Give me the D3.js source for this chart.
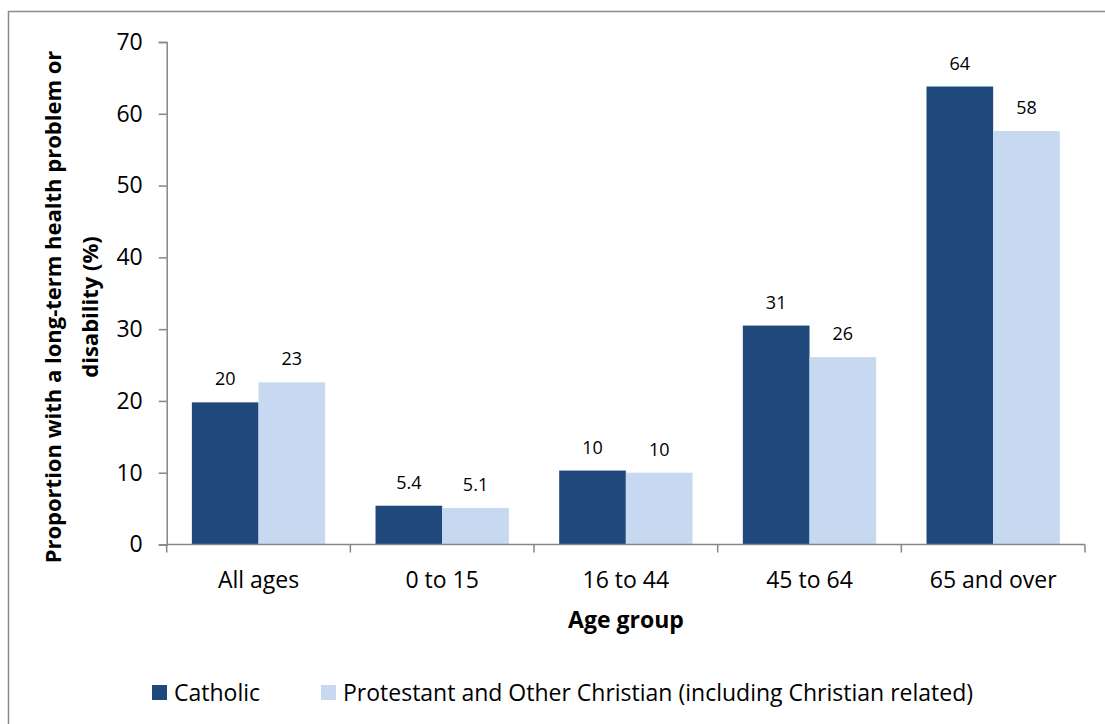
<!DOCTYPE html>
<html>
<head>
<meta charset="utf-8">
<script src="https://cdn.jsdelivr.net/npm/d3@7"></script>
<style>
  html, body { margin: 0; padding: 0; background: #fff; }
  svg { display: block; font-family: "Open Sans", "Noto Sans", sans-serif; }
</style>
</head>
<body>
<svg id="chart" width="1105" height="724"></svg>
<script>
const categories = ["All ages", "0 to 15", "16 to 44", "45 to 64", "65 and over"];
const seriesNames = ["Catholic", "Protestant and Other Christian (including Christian related)"];
const catholic = [19.8, 5.4, 10.3, 30.5, 63.8];
const protestant = [22.6, 5.1, 10.0, 26.1, 57.6];
const catholicLabels = ["20", "5.4", "10", "31", "64"];
const protestantLabels = ["23", "5.1", "10", "26", "58"];
const yTicks = [0, 10, 20, 30, 40, 50, 60, 70];
const colors = ["#1f497d", "#c6d9f1"];

(function () {
const svg = d3.select("#chart");
const pLeft = 166.7, pRight = 1085, pTop = 42, pBottom = 544.5;

// outer border (only top and left visible in frame)
svg.append("rect").attr("x", 8.5).attr("y", 11.5).attr("width", 1200).attr("height", 800)
  .attr("fill", "none").attr("stroke", "#8c8c8c").attr("stroke-width", 1.5);

const x0 = d3.scaleBand().domain(categories).range([pLeft, pRight]).paddingInner(0.274).paddingOuter(0.137);
const x1 = d3.scaleBand().domain([0, 1]).range([0, x0.bandwidth()]);
const y = d3.scaleLinear().domain([0, 70]).range([pBottom, pTop]);

const rows = categories.map((c, i) => ({ cat: c, vals: [catholic[i], protestant[i]], labels: [catholicLabels[i], protestantLabels[i]] }));

const g = svg.selectAll("g.cat").data(rows).enter().append("g")
  .attr("transform", d => `translate(${x0(d.cat)},0)`);
g.selectAll("rect").data(d => d.vals.map((v, k) => ({ v, k }))).enter().append("rect")
  .attr("x", d => x1(d.k)).attr("y", d => y(d.v))
  .attr("width", x1.bandwidth()).attr("height", d => pBottom - y(d.v))
  .attr("fill", d => colors[d.k]);
g.selectAll("text").data(d => d.vals.map((v, k) => ({ v, k, l: d.labels[k] }))).enter().append("text")
  .attr("x", d => x1(d.k) + x1.bandwidth() / 2).attr("y", d => y(d.v) - 17)
  .attr("text-anchor", "middle").attr("font-size", 18).attr("fill", "#000").text(d => d.l);

// y axis
const yAxis = svg.append("g").attr("transform", `translate(${pLeft},0)`)
  .call(d3.axisLeft(y).tickValues(yTicks).tickSize(8).tickPadding(16).tickSizeOuter(8));
yAxis.selectAll("path, line").attr("stroke", "#868686").attr("stroke-width", 1.5);
yAxis.selectAll("text").attr("font-size", 23).attr("fill", "#000").attr("font-family", "'Open Sans', sans-serif");

// x axis
const xTickPos = d3.range(categories.length + 1).map(i => pLeft + i * x0.step());
svg.append("line").attr("x1", pLeft).attr("x2", pRight).attr("y1", pBottom).attr("y2", pBottom)
  .attr("stroke", "#868686").attr("stroke-width", 1.5);
svg.selectAll("line.xt").data(xTickPos).enter().append("line").attr("class", "xt")
  .attr("x1", d => d).attr("x2", d => d).attr("y1", pBottom).attr("y2", pBottom + 8)
  .attr("stroke", "#868686").attr("stroke-width", 1.5);
svg.selectAll("text.xl").data(categories).enter().append("text").attr("class", "xl")
  .attr("x", d => x0(d) + x0.bandwidth() / 2).attr("y", 588)
  .attr("text-anchor", "middle").attr("font-size", 23).attr("fill", "#000").text(d => d);

// axis titles
svg.append("text").attr("x", 626).attr("y", 628).attr("text-anchor", "middle")
  .attr("font-size", 23).attr("font-weight", "bold").text("Age group");
const yt = svg.append("text").attr("transform", "translate(0,307) rotate(-90)")
  .attr("text-anchor", "middle").attr("font-size", 22).attr("font-weight", "bold");
yt.append("tspan").attr("x", 0).attr("y", 61).text("Proportion with a long-term health problem or");
yt.append("tspan").attr("x", 0).attr("y", 98).text("disability (%)");

// legend
const legX = [152, 321];
seriesNames.forEach((n, i) => {
  svg.append("rect").attr("x", legX[i]).attr("y", 685).attr("width", 15).attr("height", 15).attr("fill", colors[i]);
  svg.append("text").attr("x", legX[i] + 22).attr("y", 701).attr("font-size", 23).attr("fill", "#000").text(n);
});
})();
</script>
</body>
</html>
